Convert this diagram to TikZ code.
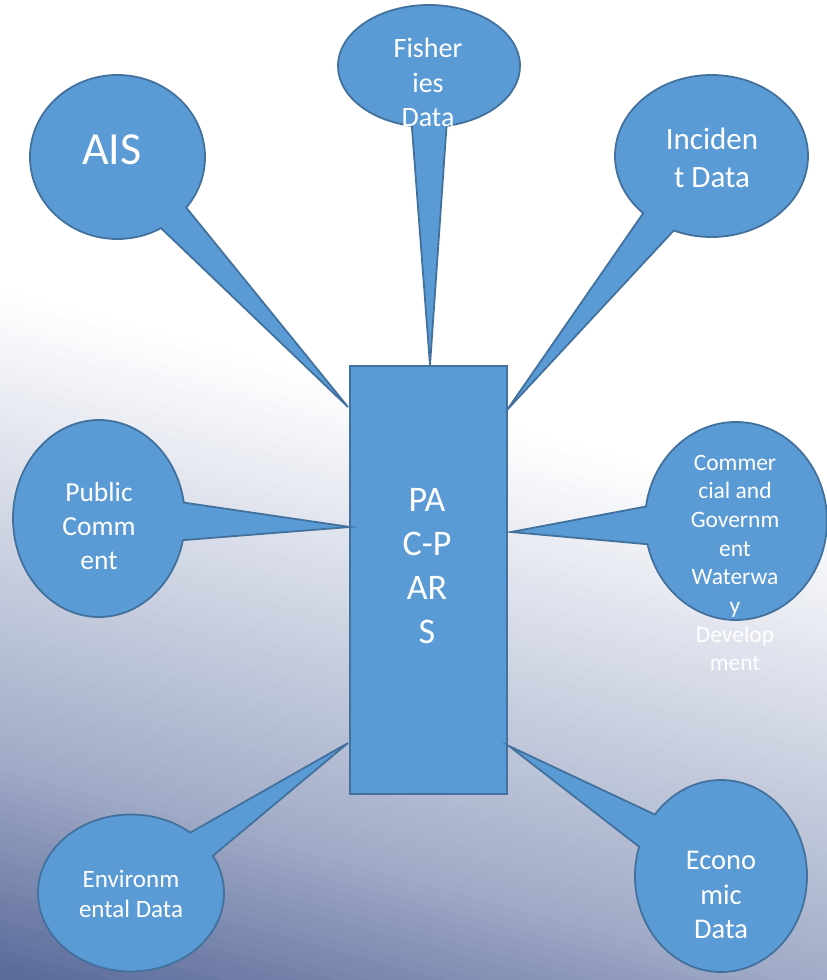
\documentclass[tikz,border=0pt]{standalone}
\usepackage{fontspec}
\setmainfont{Carlito}
\usetikzlibrary{shapes.callouts}
\definecolor{cfill}{RGB}{91,155,213}
\definecolor{cline}{RGB}{65,113,156}
\definecolor{bgmid}{RGB}{162,172,200}
\definecolor{bgdark}{RGB}{88,104,152}
\tikzset{
  bubble/.style={ellipse callout, fill=cfill, draw=cline, line width=1.8pt, inner sep=0pt, callout pointer arc=22},
  txt/.style={text=white, align=center, inner sep=0pt},
  core/.style={rectangle, fill=cfill, draw=cline, line width=1.8pt, inner sep=0pt}
}
\newcommand{\fsz}[1]{\fontsize{#1}{\fpeval{1.22*#1}}\selectfont}
\begin{document}
\begin{tikzpicture}[x=1pt,y=-1pt]
\useasboundingbox (0,0) rectangle (827,980);
% background gradient
\begin{scope}
\clip (0,0) rectangle (827,980);
\fill[white] (0,0) rectangle (827,980);
\foreach \t in {280,290,...,1000}{
  \pgfmathsetmacro\p{min(max((\t+5-290)/467*100,0),100)}
  \pgfmathsetmacro\r{100-min(max((\t+5-757)/223*100,0),100)}
  \colorlet{stripc}{bgmid!\p!white!\r!bgdark}
  \fill[stripc] (0,\t) -- (827,\t+223) -- (827,\t+233.5) -- (0,\t+10.5) -- cycle;
}
\end{scope}
% central box
\node[core, minimum width=157pt, minimum height=428pt] (R) at (428.5,580) {};
% pointer tips on the box
\coordinate (tAIS) at (348,407);
\coordinate (tFish) at (430,365);
\coordinate (tInc) at (507,410);
\coordinate (tPub) at (350,527);
\coordinate (tCom) at (511,532);
\coordinate (tEnv) at (348,743);
\coordinate (tEco) at (509,746);
% callouts
\node[bubble, minimum width=175pt, minimum height=164pt, callout absolute pointer=(tAIS)] (ais) at (117.5,157) {};
\node[bubble, minimum width=182pt, minimum height=122pt, callout absolute pointer=(tFish)] (fish) at (429,66) {};
\node[bubble, minimum width=193pt, minimum height=162pt, callout absolute pointer=(tInc)] (inc) at (711.5,156) {};
\node[bubble, minimum width=172pt, minimum height=197pt, callout absolute pointer=(tPub)] (pub) at (99,518.5) {};
\node[bubble, minimum width=182pt, minimum height=198pt, callout absolute pointer=(tCom)] (com) at (736,521) {};
\node[bubble, minimum width=186pt, minimum height=157pt, callout absolute pointer=(tEnv)] (env) at (131,893) {};
\node[bubble, minimum width=172pt, minimum height=192pt, callout absolute pointer=(tEco)] (eco) at (721,876) {};
% texts
\node[txt, font=\fsz{36}] (Rt) at (427,566) {PA\\C-P\\AR\\S};
\node[txt, font=\fsz{46}] (aist) at (112,150) {AIS};
\node[txt, font=\fsz{28}] (fisht) at (428,82.5) {Fisher\\ies\\Data};
\node[txt, font=\fsz{31}] (inct) at (712,157.5) {Inciden\\t Data};
\node[txt, font=\fsz{27.5}] (pubt) at (99,526) {Public\\Comm\\ent};
\node[txt, font=\fsz{23.5}] (comt) at (735,563) {Commer\\cial and\\Governm\\ent\\Waterwa\\y\\Develop\\ment};
\node[txt, font=\fsz{25}] (envt) at (131,894) {Environm\\ental Data};
\node[txt, font=\fsz{28.5}] (ecot) at (721,895) {Econo\\mic\\Data};
\end{tikzpicture}
\end{document}
